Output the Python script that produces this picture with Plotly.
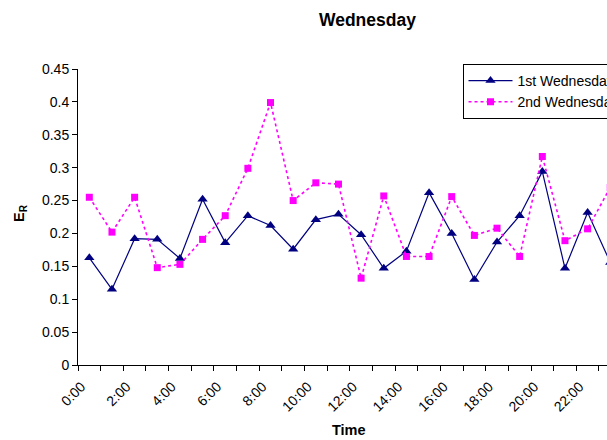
import plotly.graph_objects as go

# Hourly categories (0:00 .. 23:00); labels shown every second hour
hours = [f"{h}:00" for h in range(24)]
hour_labels = [h if i % 2 == 0 else "" for i, h in enumerate(hours)]

# E_R per hour
first_wednesday = [0.163, 0.115, 0.192, 0.191, 0.162, 0.252, 0.186, 0.227,
                   0.212, 0.176, 0.221, 0.229, 0.198, 0.147, 0.173, 0.262,
                   0.200, 0.130, 0.187, 0.227, 0.294, 0.147, 0.232, 0.156]
second_wednesday = [0.255, 0.202, 0.255, 0.148, 0.153, 0.191, 0.227, 0.299,
                    0.399, 0.250, 0.277, 0.275, 0.132, 0.257, 0.165, 0.165,
                    0.256, 0.197, 0.208, 0.165, 0.317, 0.189, 0.207, 0.270]

y_ticks = [0, 0.05, 0.1, 0.15, 0.2, 0.25, 0.3, 0.35, 0.4, 0.45]

FONT = "Arial, Liberation Sans, sans-serif"
W, H = 607, 440
ML, MT, MB = 78, 69, 75
plot_w = W - ML
plot_h = H - MT - MB
cat_px = 22.65  # width of one hourly category in pixels
x_range = [-0.5, -0.5 + plot_w / cat_px]

fig = go.Figure()
fig.add_trace(go.Scatter(
    x=hours, y=first_wednesday, name="1st Wednesday", mode="lines+markers",
    line=dict(color="#000080", width=1.2),
    marker=dict(symbol="triangle-up", size=9, color="#000080"),
))
fig.add_trace(go.Scatter(
    x=hours, y=second_wednesday, name="2nd Wednesday", mode="lines+markers",
    line=dict(color="#FF00FF", width=1.6, dash="dot"),
    marker=dict(symbol="square", size=7, color="#FF00FF"),
))

fig.update_layout(
    width=W, height=H,
    margin=dict(l=ML, r=0, t=MT, b=MB, autoexpand=False),
    paper_bgcolor="white", plot_bgcolor="white",
    font=dict(family=FONT, size=14, color="black"),
    showlegend=True,
    legend=dict(
        x=(462.5 - ML) / plot_w, y=(H - MB - 64) / plot_h,
        xanchor="left", yanchor="top",
        bordercolor="black", borderwidth=1, bgcolor="white",
        font=dict(family=FONT, size=14, color="black"),
        itemwidth=44, tracegroupgap=0,
    ),
    # tick marks on every hourly boundary, labels every two hours
    xaxis=dict(
        type="category", categoryorder="array", categoryarray=hours,
        range=x_range,
        tickmode="array", tickvals=hours, ticktext=hour_labels,
        tickson="boundaries", ticks="outside", ticklen=5, tickcolor="black",
        tickangle=-45, ticklabelshift=-8, ticklabelstandoff=7,
        showline=True, linecolor="black", linewidth=1,
        showgrid=False, zeroline=False,
        tickfont=dict(family=FONT, size=14, color="black"),
    ),
    yaxis=dict(
        range=[0, 0.45], tickmode="array", tickvals=y_ticks,
        ticktext=[f"{v:g}" for v in y_ticks],
        ticks="outside", ticklen=5, tickcolor="black",
        showline=True, linecolor="black", linewidth=1,
        showgrid=False, zeroline=False,
        tickfont=dict(family=FONT, size=14, color="black"),
    ),
    annotations=[
        dict(text="<b>Wednesday</b>", xref="paper", yref="paper",
             x=(367.5 - ML) / plot_w, y=(H - MB - 20) / plot_h,
             xanchor="center", yanchor="middle", showarrow=False,
             font=dict(family=FONT, size=17.5, color="black")),
        dict(text="<b>Time</b>", xref="paper", yref="paper",
             x=(349 - ML) / plot_w, y=(H - MB - 430) / plot_h,
             xanchor="center", yanchor="middle", showarrow=False,
             font=dict(family=FONT, size=14.5, color="black")),
        dict(text="<b>E<sub>R</sub></b>", xref="paper", yref="paper",
             x=(20 - ML) / plot_w, y=(H - MB - 213) / plot_h,
             xanchor="center", yanchor="middle", showarrow=False,
             textangle=-90,
             font=dict(family=FONT, size=14.5, color="black")),
    ],
)

fig.write_html("out.html")
